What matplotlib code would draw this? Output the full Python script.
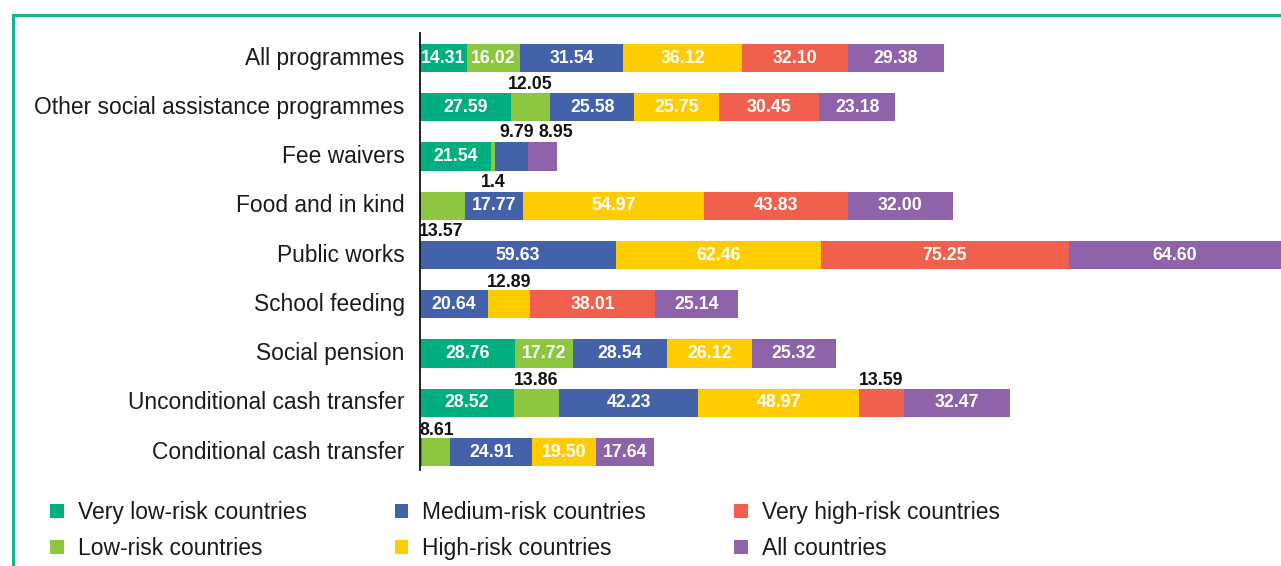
import matplotlib
matplotlib.use("Agg")
import matplotlib.pyplot as plt
from matplotlib.lines import Line2D
import numpy as np

plt.rcParams['font.family'] = ['Liberation Sans', 'DejaVu Sans']

categories = [
    "All programmes",
    "Other social assistance programmes",
    "Fee waivers",
    "Food and in kind",
    "Public works",
    "School feeding",
    "Social pension",
    "Unconditional cash transfer",
    "Conditional cash transfer",
]

series_names = [
    "Very low-risk countries",
    "Low-risk countries",
    "Medium-risk countries",
    "High-risk countries",
    "Very high-risk countries",
    "All countries",
]

very_low_risk = [14.31, 27.59, 21.54, 0.0, 0.0, 0.0, 28.76, 28.52, 0.6]
low_risk = [16.02, 12.05, 1.4, 13.57, 0.0, 0.0, 17.72, 13.86, 8.61]
medium_risk = [31.54, 25.58, 9.79, 17.77, 59.63, 20.64, 28.54, 42.23, 24.91]
high_risk = [36.12, 25.75, 0.0, 54.97, 62.46, 12.89, 26.12, 48.97, 19.50]
very_high_risk = [32.10, 30.45, 0.0, 43.83, 75.25, 38.01, 0.0, 13.59, 0.0]
all_countries = [29.38, 23.18, 8.95, 32.00, 64.60, 25.14, 25.32, 32.47, 17.64]

colors = ["#00ae80", "#8dc63f", "#4462aa", "#ffcc00", "#f0604d", "#8e63a9"]

# Segments too narrow for an inside label: (row, series) -> offset in pixels
outside_labels = {
    (1, 1): (0, 23),
    (2, 2): (5, 24),
    (2, 5): (14, 24),
    (2, 1): (0, -26),
    (3, 1): (-1, -26),
    (5, 3): (0, 22),
    (7, 1): (0, 22),
    (7, 4): (0, 22),
    (8, 1): (1, 22),
}
unlabelled = {(8, 0)}
label_text = {(2, 1): "1.4"}

data = np.array([very_low_risk, low_risk, medium_risk, high_risk,
                 very_high_risk, all_countries])

W, H = 1281, 566
fig = plt.figure(figsize=(W / 100, H / 100), dpi=100)
ax = fig.add_axes([420 / W, 1 - 470 / H, 861 / W, 437 / H])

y = np.arange(len(categories))
left = np.zeros(len(categories))
for s, name in enumerate(series_names):
    vals = data[s]
    ax.barh(y, vals, left=left, height=0.57, color=colors[s], label=name,
            linewidth=0)
    for i, v in enumerate(vals):
        if v <= 0 or (i, s) in unlabelled:
            continue
        txt = label_text.get((i, s), f"{v:.2f}")
        cx = left[i] + v / 2
        if (i, s) in outside_labels:
            dx, dy = outside_labels[(i, s)]
            ax.annotate(txt, (cx, i), xytext=(dx, dy),
                        textcoords="offset pixels", ha="center", va="center",
                        fontsize=12.8, fontweight="bold", color="#111111")
        else:
            ax.text(cx, i, txt, ha="center", va="center", fontsize=12.8,
                    fontweight="bold", color="white")
    left += vals

ax.set_xlim(0, data.sum(axis=0).max())
ax.set_ylim(8.365, -0.508)
ax.set_yticks(y)
ax.set_yticklabels(categories, fontsize=16.4, color="#1a1a1a",
                   va="center")
ax.tick_params(axis="y", length=0, pad=11)
ax.set_xticks([])
for side in ("top", "right", "bottom"):
    ax.spines[side].set_visible(False)
ax.spines["left"].set_color("#111111")
ax.spines["left"].set_linewidth(1.3)

fig.legend(loc="upper left", bbox_to_anchor=(50 / W, 1 - 501 / H),
           ncol=3, frameon=False, fontsize=16.5, handlelength=0.6,
           handleheight=0.6, handletextpad=0.6, columnspacing=3.85,
           labelspacing=0.58, borderpad=0, borderaxespad=0,
           labelcolor="#1a1a1a")

frame_color = "#13b789"
fig.add_artist(Line2D([13 / W, 13 / W, 1.0], [0, 1 - 15 / H, 1 - 15 / H],
                      transform=fig.transFigure, color=frame_color, lw=2.2,
                      solid_joinstyle="miter"))

fig.savefig("out.png", dpi=100)
